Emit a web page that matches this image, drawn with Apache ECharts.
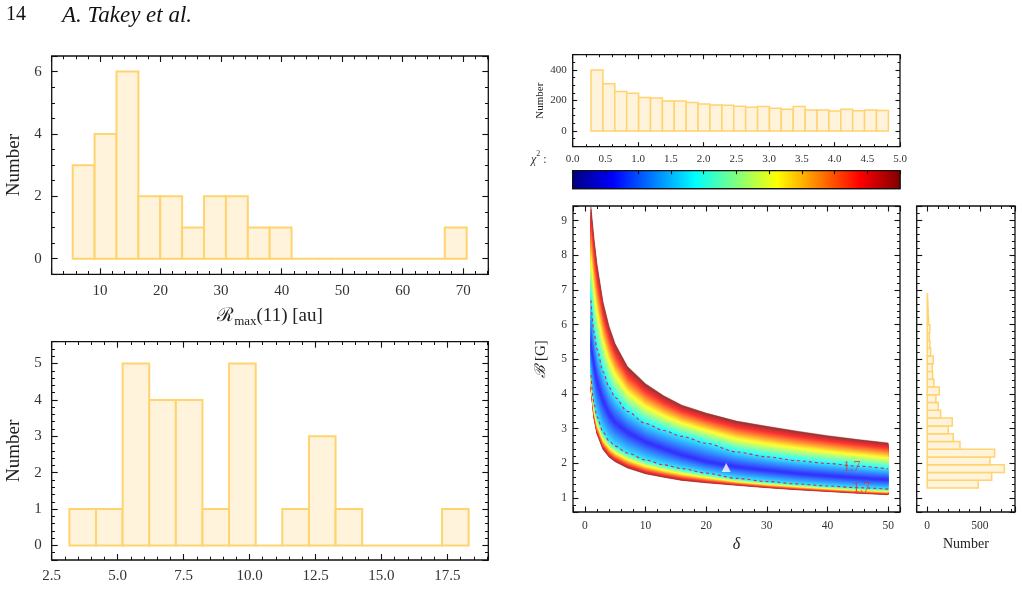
<!DOCTYPE html>
<html>
<head>
<meta charset="utf-8">
<script src="https://cdn.jsdelivr.net/npm/echarts@6/dist/echarts.min.js"></script>
<style>
  html, body { margin: 0; padding: 0; background: #fff; }
  #chart { width: 1022px; height: 590px; }
</style>
</head>
<body>
<div id="chart"></div>
<script>
// histogram of R_max(11)
const rmaxBinStart = 5.49, rmaxBinWidth = 3.615;
const rmaxCounts = [3, 4, 6, 2, 2, 1, 2, 2, 1, 1, 0, 0, 0, 0, 0, 0, 0, 1];
// lower left histogram
const lowBinStart = 3.17, lowBinWidth = 1.009;
const lowCounts = [1, 1, 5, 4, 4, 1, 5, 0, 1, 3, 1, 0, 0, 0, 1];
// chi2 histogram (top right)
const chiBinStart = 0.28, chiBinWidth = 0.1817;
const chiCounts = [400, 310, 258, 247, 219, 216, 197, 197, 186, 177, 170, 168, 162, 155, 160, 149, 142, 160, 138, 138, 131, 142, 133, 138, 135];
// B histogram (right)
const bBinStart = 1.29, bBinWidth = 0.224;
const bCounts = [484, 611, 731, 595, 639, 310, 247, 199, 237, 127, 104, 82, 114, 63, 51, 47, 57, 32, 25, 19, 25, 13, 9, 6, 3];

// chi2 map: curves B(delta)
const deltaVals = [1, 1.5, 2, 3, 4, 5, 7, 10, 13, 16, 20, 25, 30, 35, 40, 45, 50];
const bUpEdge  = [9.4, 8.5, 7.75, 6.65, 5.95, 5.45, 4.8, 4.3, 3.95, 3.68, 3.45, 3.22, 3.07, 2.93, 2.8, 2.69, 2.59]; // chi2 = 5
const bUpDash  = [6.7, 5.8, 5.3, 4.65, 4.2, 3.9, 3.5, 3.15, 2.95, 2.78, 2.58, 2.33, 2.19, 2.08, 2.0, 1.92, 1.84]; // chi2 = 1.7
const bCore    = [5.4, 4.85, 4.35, 3.8, 3.42, 3.18, 2.9, 2.62, 2.42, 2.24, 2.05, 1.9, 1.8, 1.71, 1.64, 1.58, 1.53]; // minimum
const bLowDash = [4.55, 3.75, 3.35, 2.9, 2.65, 2.5, 2.3, 2.1, 1.96, 1.85, 1.72, 1.57, 1.48, 1.41, 1.35, 1.3, 1.26];
const bLowEdge = [4.15, 3.3, 2.85, 2.4, 2.18, 2.05, 1.87, 1.7, 1.6, 1.51, 1.44, 1.37, 1.3, 1.24, 1.19, 1.14, 1.1];
const chiMin = 0.55, chiDash = 1.7, chiMax = 5;
const bestFit = [23.3, 1.88];
const contourLabels = [[44, 1.9], [45.6, 1.28]];

const serif = 'Liberation Serif';
const edgeColor = '#ffd36e', faceColor = '#fff3dc';

function bins(start, width, counts) {
  return counts.map((n, i) => [start + i * width, start + (i + 1) * width, n]);
}

function jet(t) {
  const f = v => Math.round(255 * Math.min(1, Math.max(0, v)));
  return [f(1.5 - Math.abs(4 * t - 3)), f(1.5 - Math.abs(4 * t - 2)), f(1.5 - Math.abs(4 * t - 1))];
}
function toRgb(c, alpha) {
  const m = v => Math.round(v * alpha + 255 * (1 - alpha));
  return 'rgb(' + m(c[0]) + ',' + m(c[1]) + ',' + m(c[2]) + ')';
}

// B at chi2 level c, side +1 above minimum, -1 below
function levelB(i, c, side) {
  const dash = side > 0 ? bUpDash[i] : bLowDash[i];
  const edge = side > 0 ? bUpEdge[i] : bLowEdge[i];
  if (c <= chiDash) return bCore[i] + (dash - bCore[i]) * (c - chiMin) / (chiDash - chiMin);
  return dash + (edge - dash) * (c - chiDash) / (chiMax - chiDash);
}

// colour steps of the filled map, drawn from outside in
const levels = [];
for (let c = chiMax; c > chiMin + 0.01; c -= 0.1) levels.push([+c.toFixed(2), 0]);

function histItem(horizontal, lw) {
  return function (params, api) {
    const a = api.value(0), b = api.value(1), n = api.value(2);
    let p0, p1;
    if (!horizontal) { p0 = api.coord([a, n]); p1 = api.coord([b, 0]); }
    else { p0 = api.coord([0, b]); p1 = api.coord([n, a]); }
    return {
      type: 'rect',
      shape: { x: p0[0], y: p0[1], width: p1[0] - p0[0], height: p1[1] - p0[1] },
      style: { fill: faceColor, stroke: edgeColor, lineWidth: lw }
    };
  };
}

// axis with inward major + minor ticks; mirror axes carry no labels
function axis(grid, min, max, o) {
  const tl = o.tick || 6;
  return {
    type: 'value', gridIndex: grid, min: min, max: max, position: o.pos,
    splitNumber: o.split, interval: o.interval,
    axisLine: { show: false, onZero: false },
    splitLine: { show: false },
    axisTick: { show: true, inside: true, length: tl, lineStyle: { color: '#111', width: 1.1 } },
    minorTick: { show: o.minor > 0, splitNumber: o.minor || 5, length: tl * 0.55, lineStyle: { color: '#111', width: 1 } },
    axisLabel: {
      show: !!o.labels, margin: o.margin || 8, color: '#333', fontFamily: serif, fontSize: o.fs || 14,
      showMinLabel: !!o.showMin, showMaxLabel: !!o.showMax, formatter: o.fmt
    },
    name: o.name, nameLocation: 'middle', nameGap: o.gap, nameRotate: o.rot,
    nameTextStyle: o.nameStyle,
    z: o.z || 0
  };
}

const gridBox = (left, top, width, height) => ({
  left: left, top: top, width: width, height: height, show: true,
  borderColor: '#111', borderWidth: 1.3, backgroundColor: 'transparent', outerBoundsMode: 'none'
});

const numberName = (fs) => ({ fontFamily: serif, fontSize: fs, color: '#222' });

const option = {
  animation: false,
  backgroundColor: '#fff',
  grid: [
    gridBox(51.7, 56, 436.6, 218.3),
    gridBox(51.7, 341.7, 436.6, 218.3),
    gridBox(572.7, 54.7, 327.3, 92),
    gridBox(572.7, 170.7, 327.3, 18),
    gridBox(573, 206, 327, 306),
    gridBox(916.7, 206, 98.3, 306)
  ],
  xAxis: [
    axis(0, 2.02, 74.13, { pos: 'bottom', split: 5, minor: 5, labels: true, fs: 15, margin: 9,
      name: '{r|ℛ}{s|max}{n|(11) [au]}', gap: 30,
      nameStyle: { color: '#222', rich: {
        r: { fontFamily: 'DejaVu Serif', fontSize: 19, lineHeight: 24, verticalAlign: 'middle' },
        s: { fontFamily: serif, fontSize: 13, lineHeight: 24, verticalAlign: 'bottom' },
        n: { fontFamily: serif, fontSize: 19, lineHeight: 24, verticalAlign: 'middle' } } } }),
    axis(0, 2.02, 74.13, { pos: 'top', split: 5, minor: 5 }),
    axis(1, 2.5, 19.05, { pos: 'bottom', interval: 2.5, minor: 5, labels: true, fs: 15, margin: 9, showMin: true,
      fmt: v => v.toFixed(1) }),
    axis(1, 2.5, 19.05, { pos: 'top', interval: 2.5, minor: 5 }),
    axis(2, 0, 5, { pos: 'bottom', interval: 1, minor: 5, tick: 4.5 }),
    axis(2, 0, 5, { pos: 'top', interval: 1, minor: 5, tick: 4.5 }),
    axis(3, 0, 5, { pos: 'top', interval: 0.5, minor: 0, tick: 3.5, labels: true, fs: 11, margin: 6,
      showMin: true, showMax: true, fmt: v => v.toFixed(1), z: 10 }),
    axis(4, -1.95, 51.95, { pos: 'bottom', split: 5, minor: 5, labels: true, fs: 11.5, margin: 8, tick: 5.5,
      name: 'δ', gap: 24, nameStyle: { fontFamily: serif, fontStyle: 'italic', fontSize: 16, color: '#222' } }),
    axis(4, -1.95, 51.95, { pos: 'top', split: 5, minor: 5, tick: 5.5 }),
    axis(5, -100, 832, { pos: 'bottom', split: 2, minor: 5, labels: true, fs: 11.5, margin: 8, tick: 5.5,
      name: 'Number', gap: 22, nameStyle: numberName(14) }),
    axis(5, -100, 832, { pos: 'top', split: 2, minor: 5, tick: 5.5 })
  ],
  yAxis: [
    axis(0, -0.5, 6.5, { pos: 'left', split: 3, minor: 4, labels: true, fs: 15, margin: 10,
      name: 'Number', gap: 28, rot: 90, nameStyle: numberName(19) }),
    axis(0, -0.5, 6.5, { pos: 'right', split: 3, minor: 4 }),
    axis(1, -0.4, 5.6, { pos: 'left', split: 5, minor: 5, labels: true, fs: 15, margin: 10,
      name: 'Number', gap: 28, rot: 90, nameStyle: numberName(19) }),
    axis(1, -0.4, 5.6, { pos: 'right', split: 5, minor: 5 }),
    axis(2, -103, 500, { pos: 'left', split: 3, minor: 4, labels: true, fs: 11, margin: 6, tick: 4.5,
      name: 'Number', gap: 27, rot: 90, nameStyle: numberName(11) }),
    axis(2, -103, 500, { pos: 'right', split: 3, minor: 4, tick: 4.5 }),
    { type: 'value', gridIndex: 3, min: 0, max: 1, show: false },
    axis(4, 0.6, 9.42, { pos: 'left', split: 9, minor: 5, labels: true, fs: 11.5, margin: 6, tick: 5.5,
      name: '{b|ℬ}{n| [G]}', gap: 24, rot: 90,
      nameStyle: { color: '#222', rich: {
        b: { fontFamily: 'DejaVu Serif', fontStyle: 'italic', fontSize: 15 },
        n: { fontFamily: serif, fontSize: 15 } } } }),
    axis(4, 0.6, 9.42, { pos: 'right', split: 9, minor: 5, tick: 5.5 }),
    axis(5, 0.6, 9.42, { pos: 'left', split: 9, minor: 5, tick: 5.5 }),
    axis(5, 0.6, 9.42, { pos: 'right', split: 9, minor: 5, tick: 5.5 })
  ],
  graphic: [
    { type: 'text', left: 6, top: 5, style: { text: '14', font: '20px "Liberation Serif"', fill: '#111' } },
    { type: 'text', left: 62, top: 4, style: { text: 'A. Takey et al.', font: 'italic 23px "Liberation Serif"', fill: '#111' } },
    { type: 'text', left: 531, top: 150, style: {
      text: '{c|χ}{s|2}{n| :}', fill: '#333',
      rich: {
        c: { fontFamily: serif, fontStyle: 'italic', fontSize: 12, lineHeight: 16, verticalAlign: 'bottom' },
        s: { fontFamily: serif, fontSize: 8, lineHeight: 16, verticalAlign: 'top' },
        n: { fontFamily: serif, fontSize: 12, lineHeight: 16, verticalAlign: 'bottom' }
      } } }
  ],
  series: [
    { type: 'custom', xAxisIndex: 0, yAxisIndex: 0, renderItem: histItem(false, 2),
      encode: { x: [0, 1], y: 2 }, data: bins(rmaxBinStart, rmaxBinWidth, rmaxCounts) },
    { type: 'custom', xAxisIndex: 2, yAxisIndex: 2, renderItem: histItem(false, 2),
      encode: { x: [0, 1], y: 2 }, data: bins(lowBinStart, lowBinWidth, lowCounts) },
    { type: 'custom', xAxisIndex: 4, yAxisIndex: 4, renderItem: histItem(false, 1.5),
      encode: { x: [0, 1], y: 2 }, data: bins(chiBinStart, chiBinWidth, chiCounts) },
    { type: 'custom', xAxisIndex: 9, yAxisIndex: 9, renderItem: histItem(true, 1.5),
      encode: { x: 2, y: [0, 1] }, data: bins(bBinStart, bBinWidth, bCounts) },
    // colour bar
    { type: 'custom', xAxisIndex: 6, yAxisIndex: 6, data: [[0, chiMax]],
      renderItem: function (params, api) {
        const p0 = api.coord([api.value(0), 1]), p1 = api.coord([api.value(1), 0]);
        const stops = [];
        for (let k = 0; k <= 40; k++) stops.push({ offset: k / 40, color: toRgb(jet(k / 40), 1) });
        return { type: 'rect', shape: { x: p0[0], y: p0[1], width: p1[0] - p0[0], height: p1[1] - p0[1] },
          style: { fill: new echarts.graphic.LinearGradient(0, 0, 1, 0, stops), stroke: '#111', lineWidth: 1.2 } };
      } },
    // filled chi2 map
    { type: 'custom', xAxisIndex: 7, yAxisIndex: 7, clip: true, data: levels,
      renderItem: function (params, api) {
        const c = api.value(0);
        const top = [], bot = [];
        for (let i = 0; i < deltaVals.length; i++) {
          top.push(api.coord([deltaVals[i], levelB(i, c, 1)]));
          bot.push(api.coord([deltaVals[i], levelB(i, c, -1)]));
        }
        const col = toRgb(jet(c / chiMax), 0.8);
        return { type: 'polygon', shape: { points: top.concat(bot.reverse()) },
          style: { fill: col, stroke: col, lineWidth: 0.5 } };
      } },
    { type: 'line', xAxisIndex: 7, yAxisIndex: 7, showSymbol: false, smooth: 0.3, smoothMonotone: 'x', z: 4,
      lineStyle: { color: '#e5262a', width: 1.1, type: [3, 3] },
      data: deltaVals.map((d, i) => [d, bUpDash[i]]) },
    { type: 'line', xAxisIndex: 7, yAxisIndex: 7, showSymbol: false, smooth: 0.3, smoothMonotone: 'x', z: 4,
      lineStyle: { color: '#e5262a', width: 1.1, type: [3, 3] },
      data: deltaVals.map((d, i) => [d, bLowDash[i]]) },
    { type: 'scatter', xAxisIndex: 7, yAxisIndex: 7, symbolSize: 1, z: 5,
      itemStyle: { color: 'rgba(0,0,0,0)' },
      label: { show: true, position: 'inside', formatter: () => chiDash.toFixed(1),
        color: '#d33a2f', fontFamily: serif, fontSize: 14 },
      data: contourLabels },
    { type: 'scatter', xAxisIndex: 7, yAxisIndex: 7, symbol: 'triangle', symbolSize: 9, z: 6,
      itemStyle: { color: '#fff' }, data: [bestFit] }
  ]
};

const chart = echarts.init(document.getElementById('chart'));
chart.setOption(option);
</script>
</body>
</html>
